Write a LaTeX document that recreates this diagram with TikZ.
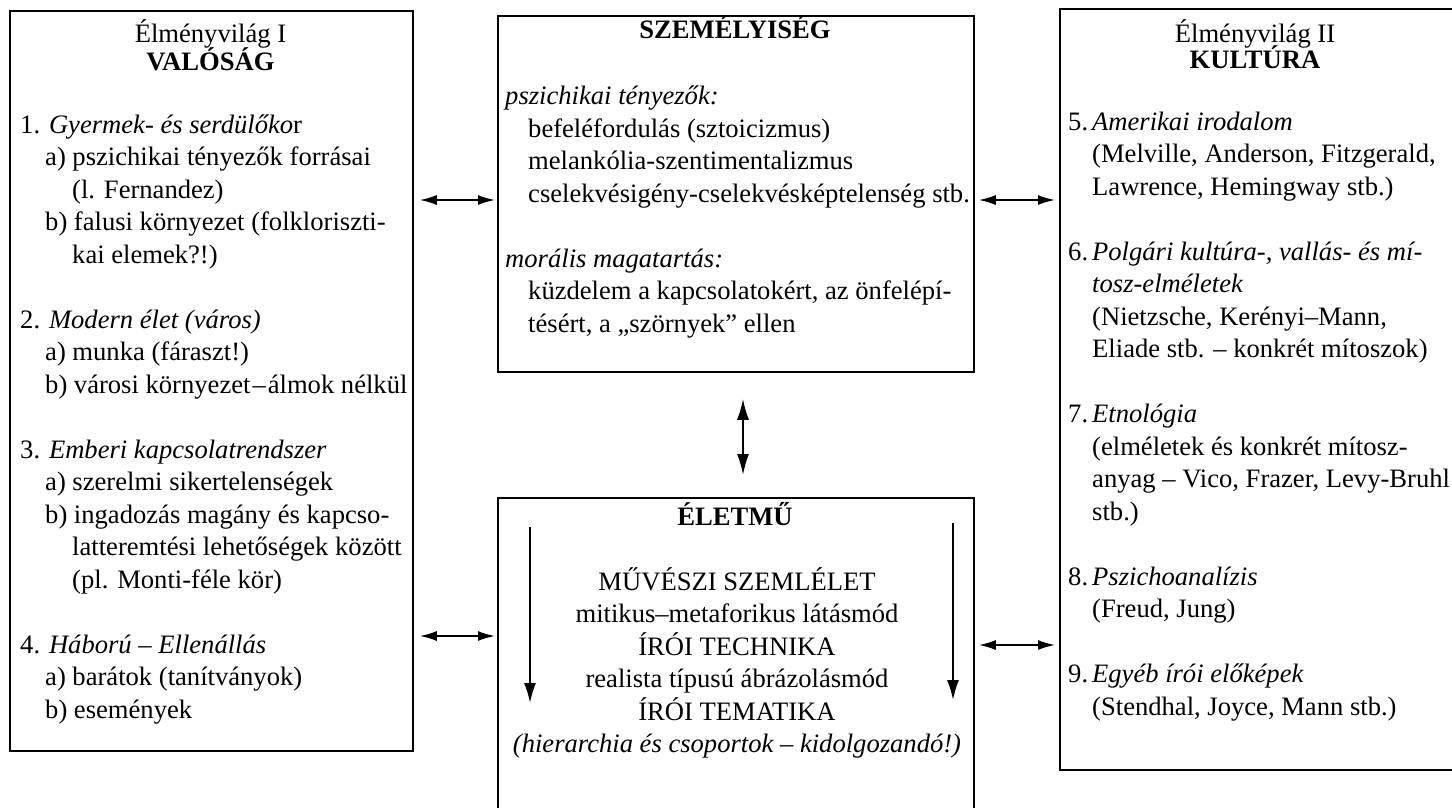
\documentclass[tikz,border=0pt]{standalone}
\usepackage{fontspec}
\setmainfont{Liberation Serif}
\usetikzlibrary{arrows.meta}
\begin{document}
\begin{tikzpicture}[x=1pt,y=-1pt,
  font=\fontsize{26.6}{32.5}\selectfont,
  box/.style={draw, line width=1.8pt, inner sep=0pt, anchor=north west},
  txt/.style={inner sep=0pt, anchor=base west, align=left},
  hdr/.style={inner sep=0pt, anchor=base, align=center},
  ctr/.style={inner sep=0pt, anchor=base, align=center},
  arr/.style={line width=1.8pt, {Latex[length=17pt,width=10pt]}-{Latex[length=17pt,width=10pt]}},
  varr/.style={line width=1.8pt, {Latex[length=21pt,width=12pt]}-{Latex[length=21pt,width=12pt]}},
  darr/.style={line width=1.8pt, -{Latex[length=20pt,width=12pt]}}]
\clip (0,0) rectangle (1452,807);
\fill[white] (0,0) rectangle (1452,807);
% boxes
\node[box, minimum width=403pt, minimum height=740pt] (val) at (9,10) {};
\node[box, minimum width=476pt, minimum height=356pt] (sz) at (497,15) {};
\node[box, minimum width=476pt, minimum height=400pt] (el) at (497,497) {};
\node[box, minimum width=430pt, minimum height=761pt] (kult) at (1059,8) {};
% left box text (anchored at the baseline of the last line)
\node[hdr] (valh) at (210.5,70) {Élményvilág I\\[-4.5pt]\textbf{VALÓSÁG}};
\node[txt] (valt) at (20,718) {%
1. \textit{Gyermek- és serdülőko}r\\
\hspace*{25pt}a) pszichikai tényezők forrásai\\
\hspace*{52pt}(l. Fernandez)\\
\hspace*{25pt}b) falusi környezet (folkloriszti-\\
\hspace*{52pt}kai elemek?!)\\[32.5pt]
2. \textit{Modern élet (város)}\\
\hspace*{25pt}a) munka (fáraszt!)\\
\hspace*{25pt}b) városi környezet\hspace{2pt}–\hspace{2pt}álmok nélkül\\[32.5pt]
3. \textit{Emberi kapcsolatrendszer}\\
\hspace*{25pt}a) szerelmi sikertelenségek\\
\hspace*{25pt}b) ingadozás magány és kapcso-\\
\hspace*{52pt}latteremtési lehetőségek között\\
\hspace*{52pt}(pl. Monti-féle kör)\\[32.5pt]
4. \textit{Háború – Ellenállás}\\
\hspace*{25pt}a) barátok (tanítványok)\\
\hspace*{25pt}b) események};
% centre top text
\node[hdr] (szh) at (735,38) {\textbf{SZEMÉLYISÉG}};
\node[txt] (szt) at (505,332) {%
\textit{pszichikai tényezők:}\\
\hspace*{23pt}befeléfordulás (sztoicizmus)\\
\hspace*{23pt}melankólia-szentimentalizmus\\
\hspace*{23pt}cselekvésigény-cselekvésképtelenség stb.\\[32.5pt]
\textit{morális magatartás:}\\
\hspace*{23pt}küzdelem a kapcsolatokért, az önfelépí-\\
\hspace*{23pt}tésért, a „szörnyek” ellen};
% centre bottom text
\node[hdr] (elh) at (735,525) {\textbf{ÉLETMŰ}};
\node[ctr] (elt) at (737,752.5) {%
MŰVÉSZI SZEMLÉLET\\
mitikus–metaforikus látásmód\\
ÍRÓI TECHNIKA\\
realista típusú ábrázolásmód\\
ÍRÓI TEMATIKA\\
\textit{(hierarchia és csoportok – kidolgozandó!)}};
% right box text
\node[hdr] (kulth) at (1255,68) {Élményvilág II\\[-6.5pt]\textbf{KULTÚRA}};
\node[txt] (kultt) at (1068,715) {%
5.\hspace{4pt}\textit{Amerikai irodalom}\\
\hspace*{24pt}(Melville, Anderson, Fitzgerald,\\
\hspace*{24pt}Lawrence, Hemingway stb.)\\[32.5pt]
6.\hspace{4pt}\textit{Polgári kultúra-, vallás- és mí-}\\
\hspace*{24pt}\textit{tosz-elméletek}\\
\hspace*{24pt}(Nietzsche, Kerényi–Mann,\\
\hspace*{24pt}Eliade stb. – konkrét mítoszok)\\[32.5pt]
7.\hspace{4pt}\textit{Etnológia}\\
\hspace*{24pt}(elméletek és konkrét mítosz-\\
\hspace*{24pt}anyag – Vico, Frazer, Levy-Bruhl\\
\hspace*{24pt}stb.)\\[32.5pt]
8.\hspace{4pt}\textit{Pszichoanalízis}\\
\hspace*{24pt}(Freud, Jung)\\[32.5pt]
9.\hspace{4pt}\textit{Egyéb írói előképek}\\
\hspace*{24pt}(Stendhal, Joyce, Mann stb.)};
% connectors
\coordinate (yA) at (0,200);
\coordinate (yB) at (0,636);
\coordinate (yC) at (0,645);
\coordinate (xV) at (743,0);
\draw[arr, shorten <=6pt, shorten >=2pt] (val.east |- yA) -- (sz.west |- yA);
\draw[arr, shorten <=4pt, shorten >=4pt] (sz.east |- yA) -- (kult.west |- yA);
\draw[arr, shorten <=6pt, shorten >=2pt] (val.east |- yB) -- (el.west |- yB);
\draw[arr, shorten <=4pt, shorten >=4pt] (el.east |- yC) -- (kult.west |- yC);
\draw[varr, shorten <=26pt, shorten >=22pt] (xV |- sz.south) -- (xV |- el.north);
\coordinate (d1s) at (530,527);
\coordinate (d1e) at (530,703);
\coordinate (d2s) at (953,523);
\coordinate (d2e) at (953,700);
\draw[darr] (d1s) -- (d1e);
\draw[darr] (d2s) -- (d2e);
\end{tikzpicture}
\end{document}
